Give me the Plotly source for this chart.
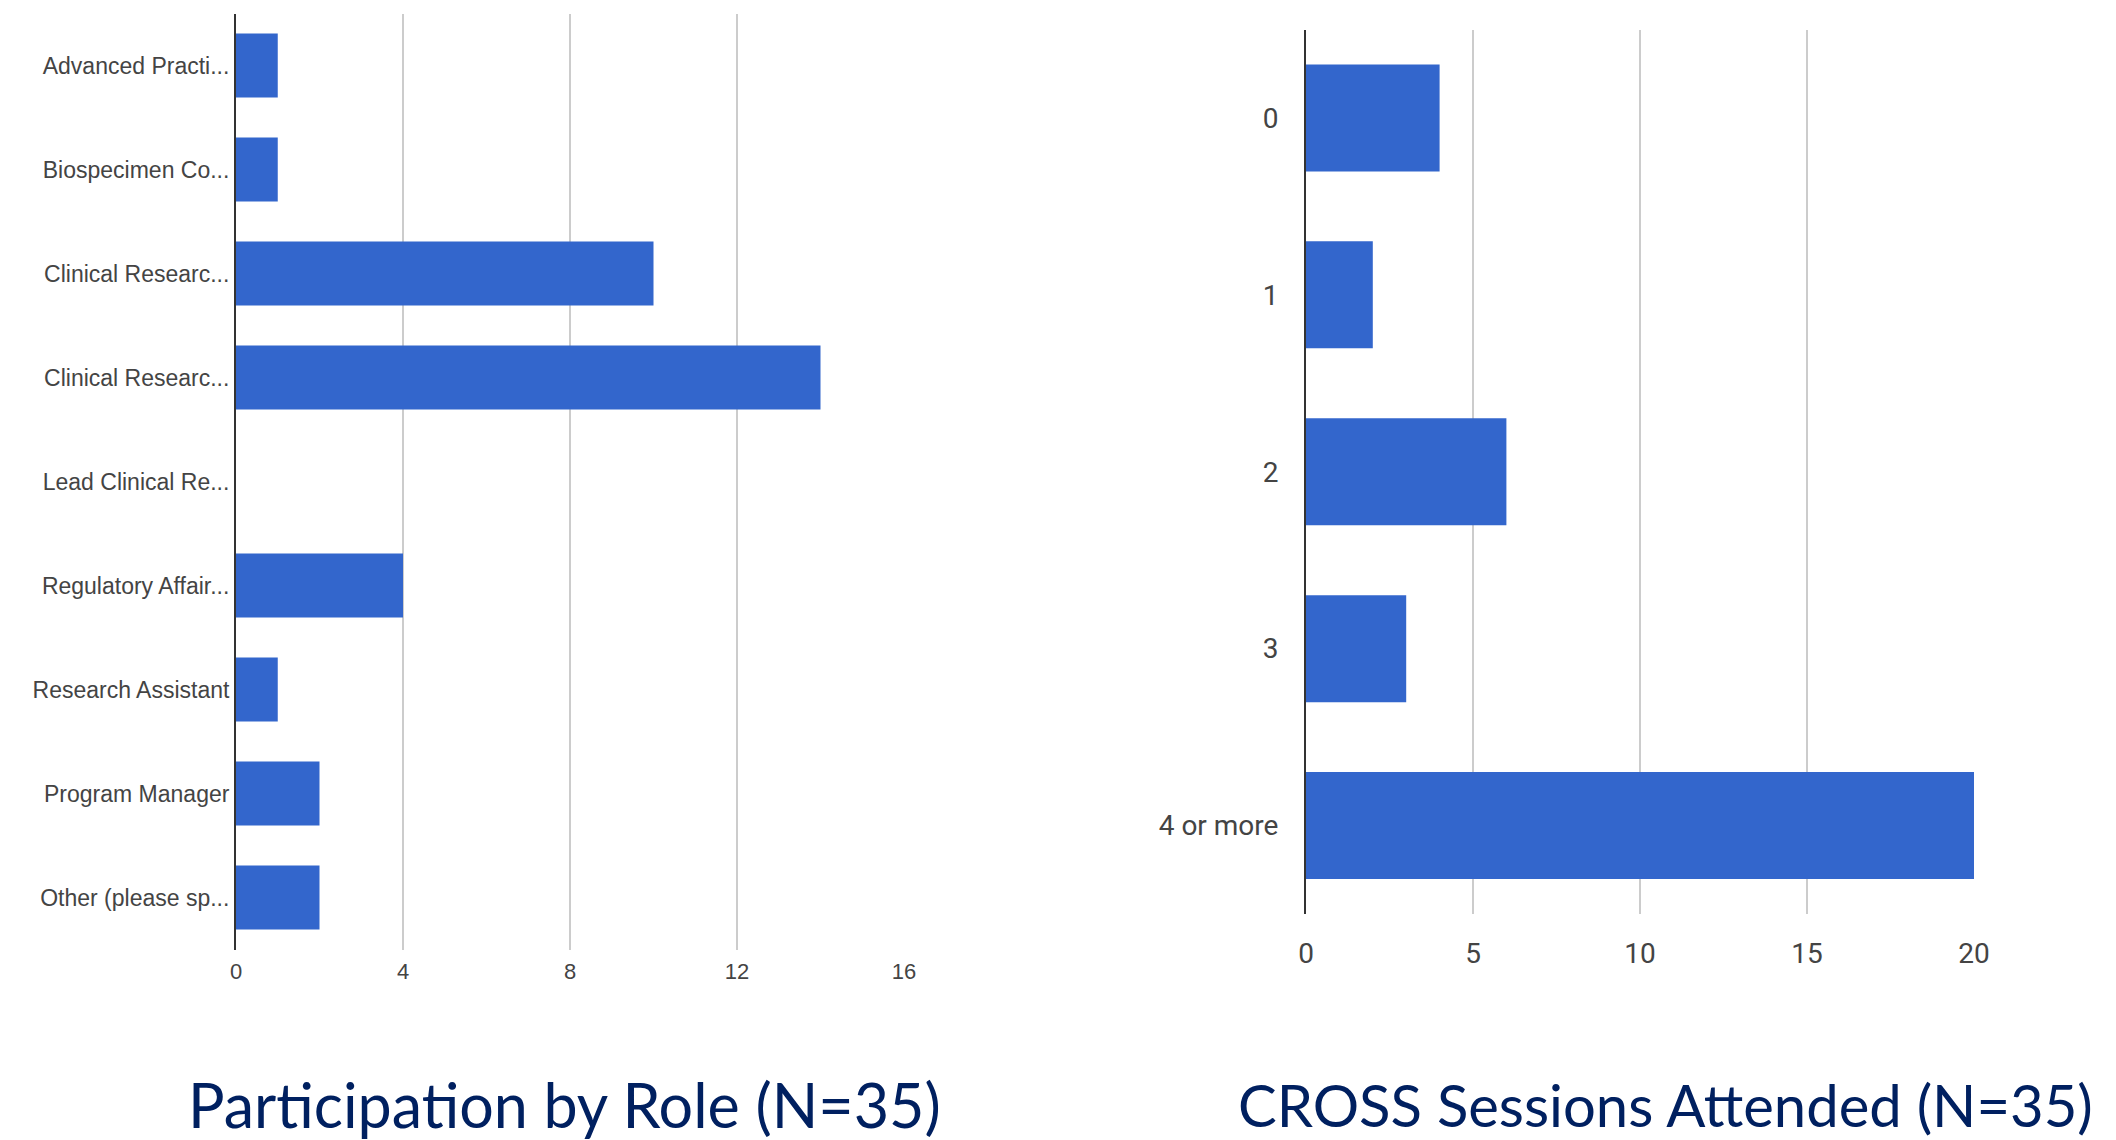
import plotly.graph_objects as go

# ---- data ----
role_labels = ["Advanced Practi...", "Biospecimen Co...", "Clinical Researc...", "Clinical Researc...",
               "Lead Clinical Re...", "Regulatory Affair...", "Research Assistant", "Program Manager",
               "Other (please sp..."]
role_counts = [1, 1, 10, 14, 0, 4, 1, 2, 2]
role_ticks = [0, 4, 8, 12, 16]

session_labels = ["0", "1", "2", "3", "4 or more"]
session_counts = [4, 2, 6, 3, 20]
session_ticks = [0, 5, 10, 15, 20]

title_left = "Participation by Role (N=35)"
title_right = "CROSS Sessions Attended (N=35)"

W, H = 2116, 1140
BAR = "#3366cc"
GRID = "#cccccc"
AXIS = "#333333"
TXT = "#444444"
NAVY = "#002060"


def px_x(v):
    return v / W


def px_y(v):
    return 1 - v / H


fig = go.Figure()

fig.add_trace(go.Bar(
    x=role_counts, y=list(range(len(role_labels))), orientation="h",
    marker=dict(color=BAR, line=dict(width=0)), width=0.615,
    xaxis="x", yaxis="y", showlegend=False, hoverinfo="x"))

fig.add_trace(go.Bar(
    x=session_counts, y=list(range(len(session_labels))), orientation="h",
    marker=dict(color=BAR, line=dict(width=0)), width=0.605,
    xaxis="x2", yaxis="y2", showlegend=False, hoverinfo="x"))

small_font = "Liberation Sans, Arial"
cond_font = "Roboto, Liberation Sans, Arial"

fig.update_layout(
    template="none",
    width=W, height=H,
    margin=dict(l=0, r=0, t=0, b=0, pad=0, autoexpand=False),
    paper_bgcolor="white", plot_bgcolor="white",
    xaxis=dict(domain=[px_x(236), px_x(904)], range=[0, 16], tickvals=role_ticks,
               showgrid=True, gridcolor=GRID, gridwidth=1.5, zeroline=False, showline=False,
               ticks="", ticklen=0, tickfont=dict(family=small_font, size=22, color=TXT),
               ticklabelstandoff=6, anchor="y", fixedrange=True, automargin=False),
    yaxis=dict(domain=[px_y(949.5), px_y(13.5)], range=[len(role_labels) - 0.5, -0.5],
               tickvals=list(range(len(role_labels))), ticktext=role_labels,
               showgrid=False, zeroline=False, showline=True, linecolor=AXIS, linewidth=2,
               ticks="", ticklen=0, tickfont=dict(family=small_font, size=23, color=TXT),
               ticklabelstandoff=0, anchor="x", fixedrange=True, automargin=False),
    xaxis2=dict(domain=[px_x(1306), px_x(1974)], range=[0, 20], tickvals=session_ticks,
                showgrid=True, gridcolor=GRID, gridwidth=1.5, zeroline=False, showline=False,
                ticks="", ticklen=0, tickfont=dict(family=cond_font, size=28, color=TXT),
                ticklabelstandoff=20, anchor="y2", fixedrange=True, automargin=False),
    yaxis2=dict(domain=[px_y(914), px_y(29.5)], range=[len(session_labels) - 0.5, -0.5],
                tickvals=list(range(len(session_labels))), ticktext=session_labels,
                showgrid=False, zeroline=False, showline=True, linecolor=AXIS, linewidth=2,
                ticks="", ticklen=0, tickfont=dict(family=cond_font, size=28, color=TXT),
                ticklabelstandoff=20, anchor="x2", fixedrange=True, automargin=False),
    annotations=[
        dict(text=title_left, x=px_x(186), y=px_y(1104), xref="paper", yref="paper",
             xanchor="left", yanchor="middle", showarrow=False,
             font=dict(family="Lato, Carlito, sans-serif", size=61, color=NAVY)),
        dict(text=title_right, x=px_x(1236), y=px_y(1104), xref="paper", yref="paper",
             xanchor="left", yanchor="middle", showarrow=False,
             font=dict(family="Lato, Carlito, sans-serif", size=58, color=NAVY)),
    ],
)

fig.write_html(
    "out.html",
    config={"displayModeBar": False},
    post_script="document.body.style.margin='0';document.body.style.overflow='hidden';",
)
